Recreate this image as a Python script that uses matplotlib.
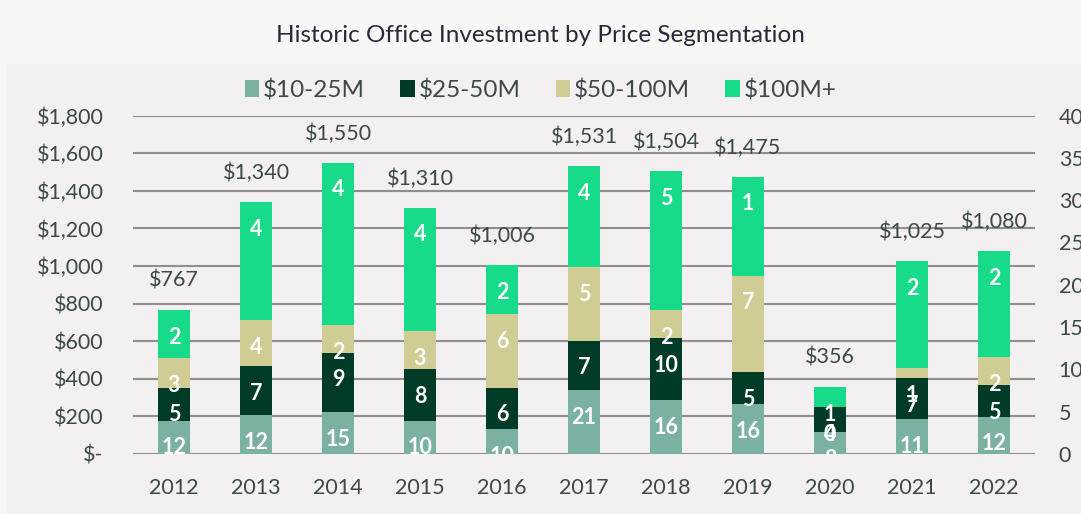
import matplotlib.pyplot as plt
import numpy as np
from matplotlib.patches import Rectangle

# 数据：各价格段投资额（百万美元）与交易数量
years = ['2012', '2013', '2014', '2015', '2016', '2017', '2018', '2019', '2020', '2021', '2022']
totals = [767, 1340, 1550, 1310, 1006, 1531, 1504, 1475, 356, 1025, 1080]
seg_names = ['$10-25M', '$25-50M', '$50-100M', '$100M+']
vol_10_25 = [177, 206, 222, 177, 133, 339, 285, 266, 117, 184, 199]
vol_25_50 = [176, 262, 317, 275, 220, 264, 330, 168, 133, 218, 168]
vol_50_100 = [156, 245, 145, 202, 392, 390, 151, 515, 0, 55, 147]
cnt_10_25 = [12, 12, 15, 10, 10, 21, 16, 16, 8, 11, 12]
cnt_25_50 = [5, 7, 9, 8, 6, 7, 10, 5, 4, 7, 5]
cnt_50_100 = [3, 4, 2, 3, 6, 5, 2, 7, 0, 1, 2]
cnt_100 = [2, 4, 4, 4, 2, 4, 5, 1, 1, 2, 2]

colors = ['#7bb1a3', '#003b28', '#cfcd93', '#17db89']
txt = '#3d4848'

vol_100 = [t - a - b - c for t, a, b, c in zip(totals, vol_10_25, vol_25_50, vol_50_100)]
vols = [vol_10_25, vol_25_50, vol_50_100, vol_100]
cnts = [cnt_10_25, cnt_25_50, cnt_50_100, cnt_100]

plt.rcParams['font.family'] = ['Lato', 'DejaVu Sans']

fig = plt.figure(figsize=(10.81, 5.14), dpi=100)
fig.patch.set_facecolor('#f7f7f7')
fig.patches.append(Rectangle((6 / 1081, 0), 1, 1 - 64 / 514, transform=fig.transFigure,
                             facecolor='#f2f0f1', edgecolor='none', zorder=-10))
fig.text(0.5, 1 - 36 / 514, 'Historic Office Investment by Price Segmentation',
         ha='center', va='center', fontsize=17.5, color='#2b2838')

ax = fig.add_axes([133 / 1081, 1 - 454 / 514, 902 / 1081, 338.4 / 514])
ax.set_facecolor('none')
x = np.arange(len(years))
bottom = np.zeros(len(years))
for vals, cnt, col, name in zip(vols, cnts, colors, seg_names):
    ax.bar(x, vals, 0.4, bottom=bottom, color=col, label=name, zorder=3)
    tops = bottom + np.array(vals)
    # 交易数量标签放在每段顶部下方，底部被坐标区裁掉
    for xi, top, c in zip(x, tops, cnt):
        ax.text(xi, top - 145, str(c), ha='center', va='center', color='white',
                fontsize=15.5, fontweight='bold', zorder=5, clip_on=True)
    bottom = tops

for xi, t in zip(x, totals):
    ax.text(xi, t + 155, '${:,}'.format(t), ha='center', va='center', fontsize=15.5, color=txt, zorder=5)

ax.set_xlim(-0.5, len(years) - 0.5)
ax.set_ylim(0, 1800)
ax.set_yticks(range(0, 1801, 200))
ax.set_yticklabels(['$-'] + ['${:,}'.format(v) for v in range(200, 1801, 200)])
ax.set_xticks(x)
ax.set_xticklabels(years)
ax.grid(axis='y', color='#8f8f8f', linewidth=1.5, zorder=1)
ax.tick_params(axis='y', length=0, pad=21, labelsize=15.5, labelcolor=txt)
ax.tick_params(axis='x', length=0, pad=17, labelsize=15.5, labelcolor=txt)
for s in ax.spines.values():
    s.set_visible(False)

ax2 = ax.twinx()
ax2.set_ylim(0, 40)
ax2.set_yticks(range(0, 41, 5))
ax2.tick_params(axis='y', length=0, pad=17, labelsize=15.5, labelcolor=txt)
for s in ax2.spines.values():
    s.set_visible(False)

ax.legend(loc='center', bbox_to_anchor=(0.5, (514 - 90) / 514), bbox_transform=fig.transFigure,
          ncol=4, frameon=False, fontsize=17.5, labelcolor=txt, handlelength=0.6, handleheight=0.75,
          handletextpad=0.15, columnspacing=1.45)

plt.savefig('out.png', dpi=100, facecolor=fig.get_facecolor())
